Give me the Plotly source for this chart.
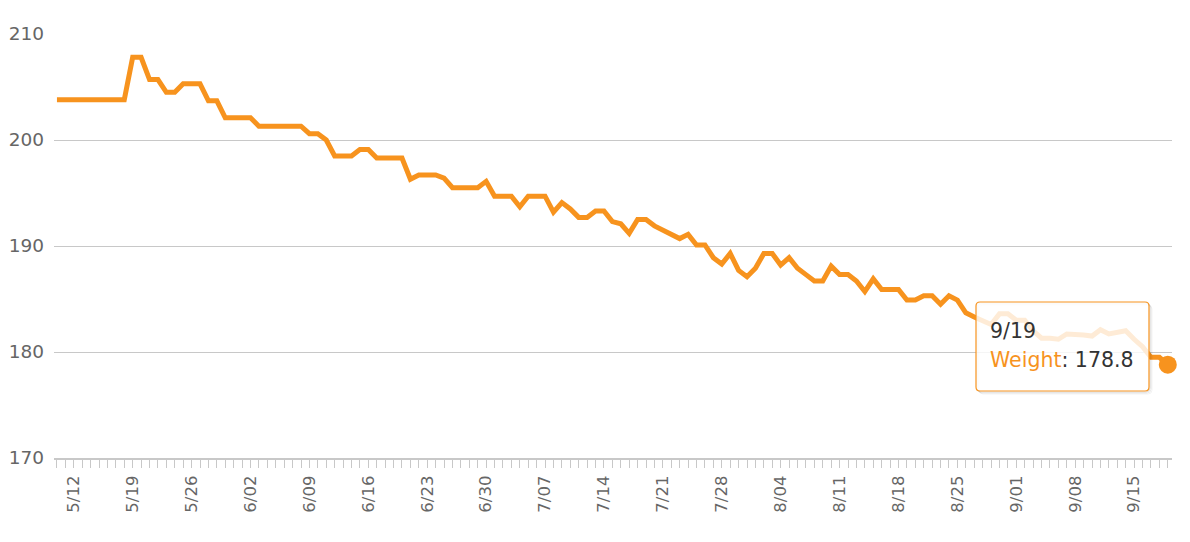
import pandas as pd
import plotly.graph_objects as go

# ---- data ----
start_date = "2019-05-10"
end_date = "2019-09-19"
dates = [f"{d.month}/{d.day:02d}" for d in pd.date_range(start_date, end_date, freq="D")]

weights = [
    203.8, 203.8, 203.8, 203.8, 203.8, 203.8, 203.8, 203.8, 203.8,   # 5/10-5/18
    207.8, 207.8, 205.7, 205.7, 204.5, 204.5, 205.3, 205.3, 205.3,   # 5/19-5/27
    203.7, 203.7, 202.1, 202.1, 202.1, 202.1,                        # 5/28-6/02
    201.3, 201.3, 201.3, 201.3, 201.3, 201.3,                        # 6/03-6/08
    200.6, 200.6, 200.0, 198.5, 198.5, 198.5, 199.1, 199.1,          # 6/09-6/16
    198.3, 198.3, 198.3, 198.3, 196.3, 196.7, 196.7, 196.7,          # 6/17-6/24
    196.4, 195.5, 195.5, 195.5, 195.5, 196.1,                        # 6/25-6/30
    194.7, 194.7, 194.7, 193.7, 194.7, 194.7, 194.7,                 # 7/01-7/07
    193.2, 194.1, 193.5, 192.7, 192.7, 193.3, 193.3,                 # 7/08-7/14
    192.3, 192.1, 191.2, 192.5, 192.5, 191.9, 191.5,                 # 7/15-7/21
    191.1, 190.7, 191.1, 190.1, 190.1, 188.9, 188.3,                 # 7/22-7/28
    189.3, 187.7, 187.1, 187.9, 189.3, 189.3, 188.2,                 # 7/29-8/04
    188.9, 187.9, 187.3, 186.7, 186.7, 188.1, 187.3,                 # 8/05-8/11
    187.3, 186.7, 185.7, 186.9, 185.9, 185.9, 185.9,                 # 8/12-8/18
    184.9, 184.9, 185.3, 185.3, 184.5, 185.3, 184.9,                 # 8/19-8/25
    183.7, 183.3, 182.9, 182.6, 183.6, 183.6, 183.0,                 # 8/26-9/01
    183.0, 182.0, 181.3, 181.3, 181.2, 181.7, 181.7,                 # 9/02-9/08
    181.6, 181.5, 182.1, 181.7, 181.8, 182.0, 181.2,                 # 9/09-9/15
    180.5, 179.5, 179.5, 178.8,                                      # 9/16-9/19
]

tick_labels = ["5/12", "5/19", "5/26", "6/02", "6/09", "6/16", "6/23", "6/30",
               "7/07", "7/14", "7/21", "7/28", "8/04", "8/11", "8/18", "8/25",
               "9/01", "9/08", "9/15"]
y_ticks = [170, 180, 190, 200, 210]
series_name = "Weight"

assert len(dates) == len(weights), (len(dates), len(weights))

# ---- style ----
ORANGE = "#F7931E"
GRID = "#C8C8C8"
LABEL = "#666666"
FONT = "DejaVu Sans"

OFF = 8                      # default page body margin
W, H = 1190 - OFF, 542 - OFF
L, R, T, B = 54 - OFF, 18, 34 - OFF, 84
PW, PH = W - L - R, H - T - B


def px(x):
    # page pixel x -> paper fraction
    return (x - OFF - L) / PW


def py(y):
    # page pixel y -> paper fraction
    return (H - B - (y - OFF)) / PH


fig = go.Figure()
fig.add_trace(go.Scatter(
    x=dates, y=weights, mode="lines", name=series_name,
    line=dict(color=ORANGE, width=5), hoverinfo="skip", showlegend=False,
))
fig.add_trace(go.Scatter(
    x=[dates[-1]], y=[weights[-1]], mode="markers",
    marker=dict(color=ORANGE, size=18), cliponaxis=False,
    hoverinfo="skip", showlegend=False,
))

ticktext = [d if d in tick_labels else "" for d in dates]

fig.update_xaxes(
    type="category", categoryorder="array", categoryarray=dates,
    range=[-0.35, len(dates) - 0.5],
    tickmode="array", tickvals=dates, ticktext=ticktext,
    tickangle=-90, ticks="outside", ticklen=8, tickwidth=1, tickcolor="#C8C8C8",
    showline=True, linecolor="#C8C8C8", linewidth=2,
    showgrid=False, zeroline=False,
    tickfont=dict(family=FONT, size=16.5, color=LABEL),
    ticklabelstandoff=1,
)
fig.update_yaxes(
    range=[170, 210], tickmode="array", tickvals=y_ticks,
    showgrid=True, gridcolor=GRID, gridwidth=1, zeroline=False,
    showline=False, ticks="",
    tickfont=dict(family=FONT, size=18.5, color=LABEL),
    ticklabelstandoff=9,
)


def rounded_rect(x0, y0, x1, y1, r):
    # page pixel coordinates -> paper path with rounded corners
    rx, ry = r / PW, r / PH
    X0, X1 = px(x0), px(x1)
    Y0, Y1 = py(y0), py(y1)  # Y0 top, Y1 bottom
    return (f"M {X0+rx},{Y0} L {X1-rx},{Y0} Q {X1},{Y0} {X1},{Y0-ry} "
            f"L {X1},{Y1+ry} Q {X1},{Y1} {X1-rx},{Y1} "
            f"L {X0+rx},{Y1} Q {X0},{Y1} {X0},{Y1+ry} "
            f"L {X0},{Y0-ry} Q {X0},{Y0} {X0+rx},{Y0} Z")


tx0, ty0, tx1, ty1 = 976, 302, 1149, 391
shapes = []
for off, a in [(3, 0.05), (2, 0.08), (1, 0.12)]:
    shapes.append(dict(type="path", xref="paper", yref="paper",
                       path=rounded_rect(tx0 + off, ty0 + off, tx1 + off, ty1 + off, 4),
                       line=dict(color=f"rgba(0,0,0,{a})", width=1),
                       fillcolor="rgba(0,0,0,0)", layer="above"))
shapes.append(dict(type="path", xref="paper", yref="paper",
                   path=rounded_rect(tx0, ty0, tx1, ty1, 4),
                   line=dict(color=ORANGE, width=1.2),
                   fillcolor="rgba(255,255,255,0.82)", layer="above"))

annotations = [
    dict(xref="paper", yref="paper", x=px(988), y=py(331), xanchor="left", yanchor="middle",
         text=dates[-1], showarrow=False,
         font=dict(family=FONT, size=20.5, color="#333333")),
    dict(xref="paper", yref="paper", x=px(988), y=py(360), xanchor="left", yanchor="middle",
         text=f"<span style='color:{ORANGE}'>{series_name}</span>: {weights[-1]}",
         showarrow=False, font=dict(family=FONT, size=20.5, color="#333333")),
]

fig.update_layout(
    width=W, height=H, margin=dict(l=L, r=R, t=T, b=B, autoexpand=False),
    paper_bgcolor="white", plot_bgcolor="white",
    shapes=shapes, annotations=annotations,
    font=dict(family=FONT),
)

fig.write_html("out.html")
